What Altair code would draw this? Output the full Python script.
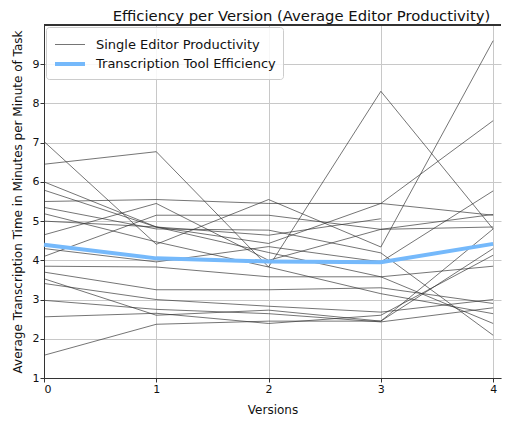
import altair as alt
import pandas as pd

versions = [0, 1, 2, 3, 4]

editors = [
    [7.03, 4.41, 5.55, 4.34, 9.60],
    [6.45, 6.77, 3.83, 8.31, 4.80],
    [5.50, 5.55, 5.45, 5.45, 5.15],
    [6.00, 4.85, 4.43, 5.45, 7.56],
    [5.79, 4.85, 4.20, 3.58, 2.39],
    [5.35, 4.80, 4.77, 4.19, 2.09],
    [5.19, 4.47, 3.83, 3.15, 2.64],
    [5.00, 4.85, 4.64, 5.06, None],
    [4.65, 5.45, 4.00, 4.79, 4.85],
    [4.30, 3.96, 4.35, 3.96, 5.77],
    [4.10, 5.15, 5.15, 4.79, 5.17],
    [3.85, 3.83, 3.58, 3.58, 3.85],
    [3.70, 3.25, 3.25, 3.30, 2.90],
    [3.53, 2.60, 2.73, 2.45, 4.80],
    [3.41, 3.00, 2.83, 2.68, 3.00],
    [2.98, 2.75, 2.64, 2.43, 2.79],
    [2.56, 2.65, 2.39, 2.60, 4.13],
    [1.58, 2.37, 2.45, 2.45, 4.30],
]

tool_efficiency = [4.40, 4.05, 3.97, 3.95, 4.42]

series_names = ["Single Editor Productivity", "Transcription Tool Efficiency"]

rows = []
for i, vals in enumerate(editors):
    for v, y in zip(versions, vals):
        if y is not None:
            rows.append({"version": v, "value": y, "line": f"e{i}", "series": series_names[0]})
for v, y in zip(versions, tool_efficiency):
    rows.append({"version": v, "value": y, "line": "tool", "series": series_names[1]})
df = pd.DataFrame(rows)

W = 457
H = 353

x = alt.X("version:Q", scale=alt.Scale(domain=[0, 4.07], nice=False, zero=False),
          axis=alt.Axis(values=[0, 1, 2, 3, 4], title="Versions", format="d"))
y = alt.Y("value:Q", scale=alt.Scale(domain=[1, 10], nice=False, zero=False),
          axis=alt.Axis(values=[1, 2, 3, 4, 5, 6, 7, 8, 9],
                        title="Average Transcription Time in Minutes per Minute of Task"))

lines = alt.Chart(df).mark_line().encode(
    x=x,
    y=y,
    detail="line:N",
    color=alt.Color("series:N", scale=alt.Scale(domain=series_names, range=["#333333", "#75b9fb"]),
                    legend=alt.Legend(title=None, orient="top-left", offset=2,
                                      symbolType="M-1,0H2", symbolSize=400,
                                      labelFont="DejaVu Sans", labelFontSize=13,
                                      labelColor="#111", labelOffset=19, labelLimit=400,
                                      padding=7, rowPadding=-2,
                                      strokeColor="#cccccc", fillColor="rgba(255,255,255,0.85)",
                                      cornerRadius=3)),
    strokeWidth=alt.StrokeWidth("series:N", scale=alt.Scale(domain=series_names, range=[0.8, 4]),
                                legend=alt.Legend(title=None, orient="top-left")),
    opacity=alt.Opacity("series:N", scale=alt.Scale(domain=series_names, range=[0.85, 1.0]), legend=None),
    order=alt.Order("series:N"),
)

top_spine = alt.Chart(df).mark_rule(color="#333", strokeWidth=1).encode(
    x=alt.value(0), x2=alt.value(W), y=alt.value(0)
)

chart = alt.layer(lines, top_spine).properties(
    width=W, height=H,
    padding={"left": 3, "right": 0, "top": 0, "bottom": 0},
    title=alt.TitleParams("Efficiency per Version (Average Editor Productivity)",
                          font="DejaVu Sans", fontSize=14.8, fontWeight="normal",
                          color="#111", offset=1, dx=29),
).configure_view(stroke=None).configure_axis(
    labelFont="DejaVu Sans", labelFontSize=11, labelColor="#111",
    titleFont="DejaVu Sans", titleFontSize=12, titleFontWeight="normal", titleColor="#111",
    gridColor="#c8c8c8", gridWidth=1, domainColor="#333", tickColor="#333",
    tickSize=4, labelPadding=1,
).configure_axisY(titlePadding=8).configure_axisX(titlePadding=10)

chart.save("out.html", embed_options={"renderer": "svg", "actions": False})
